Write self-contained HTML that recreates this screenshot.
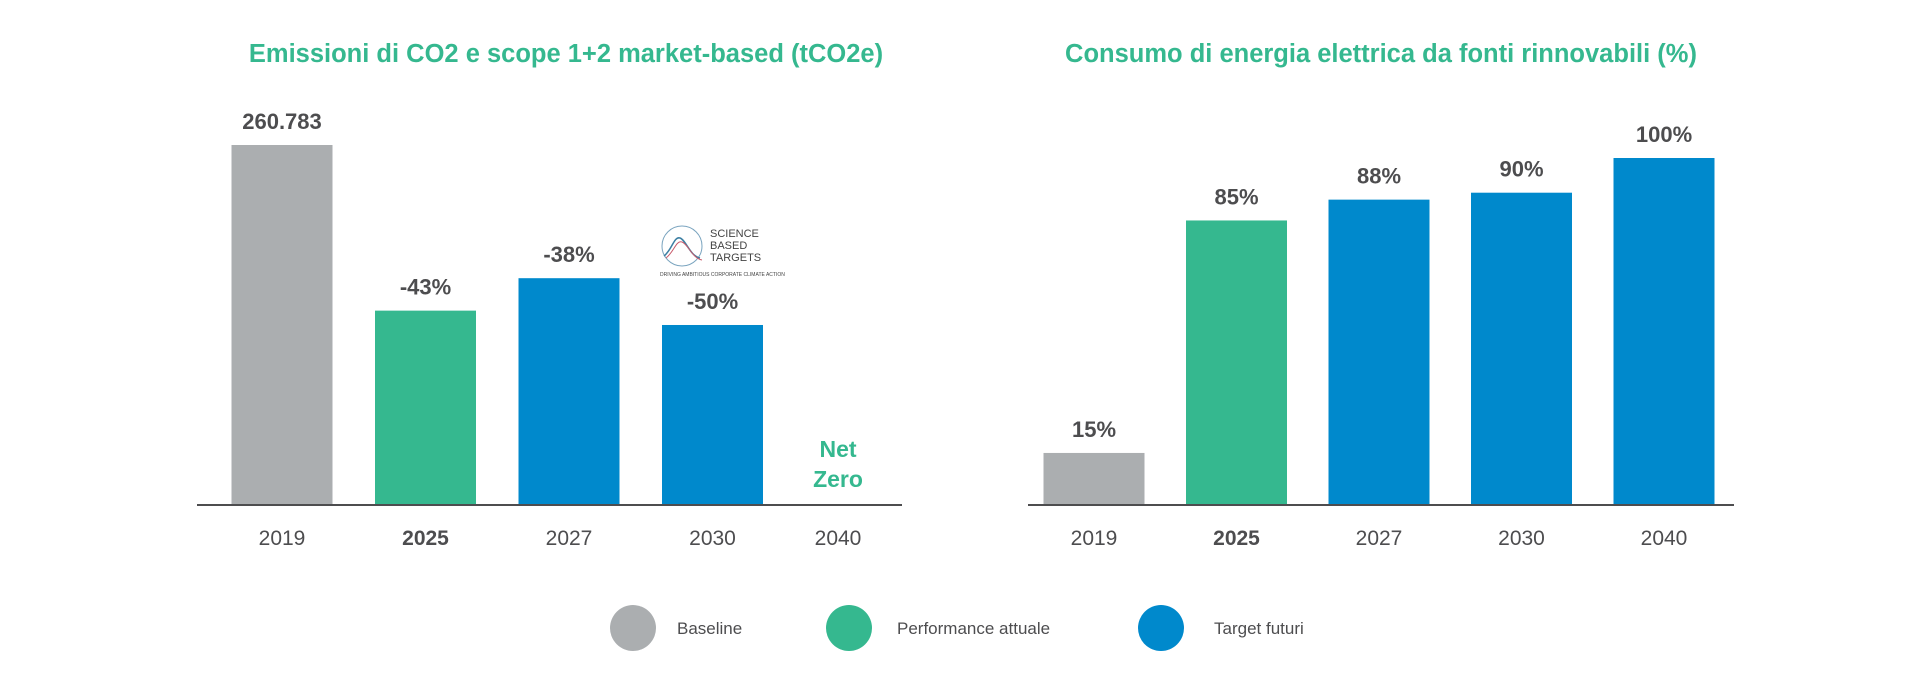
<!DOCTYPE html>
<html><head><meta charset="utf-8"><style>
html,body{margin:0;padding:0;background:#fff;}
body{width:1930px;height:678px;overflow:hidden;font-family:"Liberation Sans",sans-serif;}
svg text{font-family:"Liberation Sans",sans-serif;}
</style></head><body>
<svg id="c" width="1930" height="678">
<text x="566" y="62" text-anchor="middle" font-size="25.5" font-weight="bold" fill="#35b88f">Emissioni di CO2 e scope 1+2 market-based (tCO2e)</text>
<text x="1381" y="62" text-anchor="middle" font-size="25.5" font-weight="bold" fill="#35b88f">Consumo di energia elettrica da fonti rinnovabili (%)</text>
<g>
<circle cx="682" cy="246" r="20" fill="none" stroke="#7aa4bf" stroke-width="1"/>
<path d="M664 256 C672 250 674 236 680 238 C686 240 690 256 700 258" fill="none" stroke="#3c7fa3" stroke-width="1.5"/>
<path d="M666 258 C674 252 676 240 682 242 C688 244 692 258 702 260" fill="none" stroke="#c85a6a" stroke-width="1"/>
<text x="710" y="237" font-size="11" fill="#444">SCIENCE</text>
<text x="710" y="249" font-size="11" fill="#444">BASED</text>
<text x="710" y="261" font-size="11" fill="#444">TARGETS</text>
<text x="660" y="276" font-size="5" fill="#444">DRIVING AMBITIOUS CORPORATE CLIMATE ACTION</text>
</g>
<g>
<circle cx="633" cy="628" r="23" fill="#abaeb0"/>
<text x="677" y="634" font-size="17" fill="#4d4d4f">Baseline</text>
<circle cx="849" cy="628" r="23" fill="#35b88f"/>
<text x="897" y="634" font-size="17" fill="#4d4d4f">Performance attuale</text>
<circle cx="1161" cy="628" r="23" fill="#0089cc"/>
<text x="1214" y="634" font-size="17" fill="#4d4d4f">Target futuri</text>
</g>
</svg>
<script>
const years = ["2019","2025","2027","2030","2040"];
const leftValues = [260783, 140800, 164300, 130400, 0];
const leftLabels = ["260.783","-43%","-38%","-50%",""];
const rightValues = [15, 82, 88, 90, 100];
const rightLabels = ["15%","85%","88%","90%","100%"];
const colorIdx = [0,1,2,2,2];
const palette = ["#abaeb0","#35b88f","#0089cc"];
const NS="http://www.w3.org/2000/svg";
const svg=document.getElementById('c');
function mk(t,a){const e=document.createElementNS(NS,t);for(const k in a)e.setAttribute(k,a[k]);svg.appendChild(e);return e;}
function chart(prefix,ax0,ax1,c0,step,lastX,vals,labels,maxV,hPx){
  const base=505, bw=101;
  const xs=i=>(i==4&&lastX)?lastX:c0+step*i;
  const ys=v=>base-v/maxV*hPx;
  vals.forEach((v,i)=>{
    if(v>0){
      const r=mk('rect',{x:xs(i)-bw/2,y:ys(v),width:bw,height:base-ys(v),fill:palette[colorIdx[i]]});
      
      
    }
    if(labels[i]){
      const t=mk('text',{x:xs(i),y:ys(v)-16,'text-anchor':'middle','font-size':22,'font-weight':'bold',fill:'#4d4d4f'});
      t.textContent=labels[i];
      
      
    }
    const y=mk('text',{x:xs(i),y:545,'text-anchor':'middle','font-size':21,'font-weight':i==1?'bold':'normal',fill:'#4d4d4f'});
    y.textContent=years[i];
    
    
  });
  const ax=mk('line',{x1:ax0,x2:ax1,y1:base,y2:base,stroke:'#4d4d4f','stroke-width':2});
  
  
  return xs;
}
chart('left',197,902,282,143.5,838,leftValues,leftLabels,260783,360);
chart('right',1028,1734,1094,142.5,0,rightValues,rightLabels,100,347);
const nz1=mk('text',{x:838,y:457,'text-anchor':'middle','font-size':23,'font-weight':'bold',fill:'#35b88f'});
nz1.textContent='Net';


const nz2=mk('text',{x:838,y:487,'text-anchor':'middle','font-size':23,'font-weight':'bold',fill:'#35b88f'});
nz2.textContent='Zero';


</script>
</body></html>
